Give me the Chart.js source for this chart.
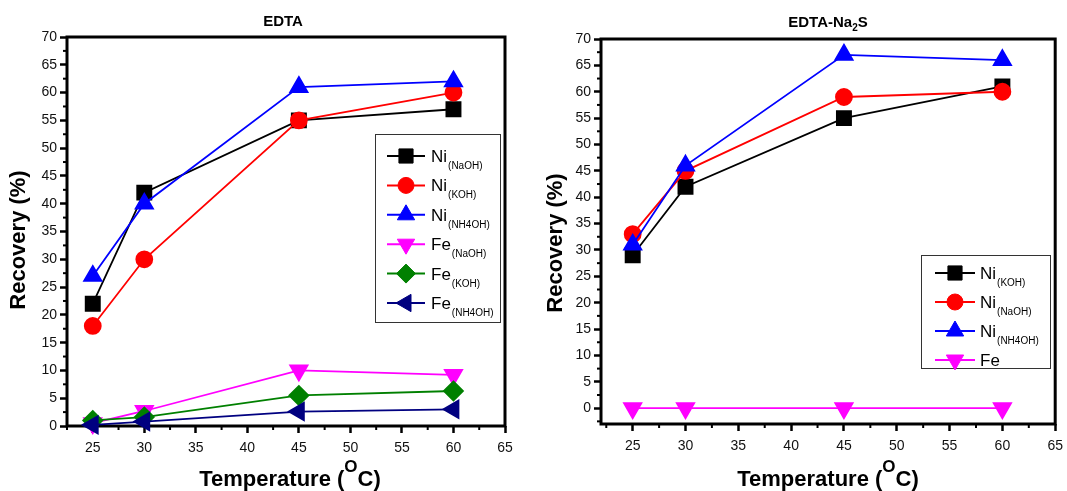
<!DOCTYPE html>
<html>
<head>
<meta charset="utf-8">
<script src="https://cdn.jsdelivr.net/npm/chart.js@4"></script>
<style>
  body { margin: 0; background: #fff; width: 1067px; height: 491px; position: relative; overflow: hidden; }
  canvas { position: absolute; top: 0; }
</style>
</head>
<body>
<canvas id="edta" width="533" height="491" style="left:0"></canvas>
<canvas id="na2s" width="534" height="491" style="left:533px"></canvas>
<script>
const FONT = "'Liberation Sans', Arial, sans-serif";

// temperatures (°C)
const temps = [25, 30, 45, 60];

// EDTA panel
const edtaNiNaOH = [22, 42, 55, 57];
const edtaNiKOH = [18, 30, 55, 60];
const edtaNiNH4OH = [27, 40, 61, 62];
const edtaFeNaOH = [0.5, 2.7, 10, 9.2];
const edtaFeKOH = [1, 1.6, 5.5, 6.3];
const edtaFeNH4OH = [0.2, 0.8, 2.6, 3];
const edtaNames = ['Ni', 'Ni', 'Ni', 'Fe', 'Fe', 'Fe'];
const edtaSubs = ['(NaOH)', '(KOH)', '(NH4OH)', '(NaOH)', '(KOH)', '(NH4OH)'];

// EDTA-Na2S panel
const na2sNiKOH = [29, 42, 55, 61];
const na2sNiNaOH = [33, 45, 59, 60];
const na2sNiNH4OH = [31, 46, 67, 66];
const na2sFe = [0, 0, 0, 0];
const na2sNames = ['Ni', 'Ni', 'Ni', 'Fe'];
const na2sSubs = ['(KOH)', '(NaOH)', '(NH4OH)', ''];

// tick labels
const xTicks = [25, 30, 35, 40, 45, 50, 55, 60, 65];
const yTicks = [0, 5, 10, 15, 20, 25, 30, 35, 40, 45, 50, 55, 60, 65, 70];

const styles = {
  sq:    { color: '#000000', pointStyle: 'rect', radius: 10, rotation: 0 },
  circ:  { color: '#ff0000', pointStyle: 'circle', radius: 8, rotation: 0 },
  up:    { color: '#0000ff', pointStyle: 'triangle', radius: 10, rotation: 0 },
  down:  { color: '#ff00ff', pointStyle: 'triangle', radius: 10, rotation: 180 },
  dia:   { color: '#008000', pointStyle: 'rectRot', radius: 9.5, rotation: 0 },
  left:  { color: '#000080', pointStyle: 'triangle', radius: 10, rotation: 270 }
};

function makeDatasets(series, names, subs, st) {
  const n = series.length;
  return series.map((vals, i) => ({
    label: names[i] + subs[i],
    main: names[i],
    sub: subs[i],
    st: st[i],
    data: temps.map((t, j) => ({ x: t, y: vals[j] })),
    borderColor: st[i].color,
    backgroundColor: st[i].color,
    pointBackgroundColor: st[i].color,
    pointBorderColor: st[i].color,
    pointStyle: st[i].pointStyle,
    pointRadius: st[i].radius,
    pointHoverRadius: st[i].radius,
    pointRotation: st[i].rotation,
    borderWidth: 1.8,
    tension: 0,
    clip: false,
    order: n - i
  }));
}

function withMinors(majors, min, max) {
  const out = [];
  majors.forEach(v => { out.push(v - 2.5, v); });
  out.push(majors[majors.length - 1] + 2.5);
  return [...new Set(out)].filter(v => v >= min && v <= max).sort((a, b) => a - b);
}

function axis(min, max, majors, fit, isX) {
  return {
    type: 'linear',
    min, max,
    afterBuildTicks: s => { s.ticks = withMinors(majors, min, max).map(v => ({ value: v })); },
    afterFit: s => {
      if (isX) s.height = fit; else s.width = fit;
      s.paddingLeft = s.paddingRight = s.paddingTop = s.paddingBottom = 0;
    },
    border: { display: false },
    grid: {
      drawOnChartArea: false,
      drawTicks: true,
      tickLength: 7,
      tickColor: c => (c.tick && c.tick.value % 5 === 0 ? '#000' : 'rgba(0,0,0,0)'),
      tickWidth: 2.5
    },
    ticks: {
      autoSkip: false,
      maxRotation: 0,
      padding: isX ? 7 : 3,
      color: '#111',
      font: { family: FONT, size: 14 },
      callback: v => (v % 5 === 0 ? v : '')
    }
  };
}

function drawLegend(ctx, lg, datasets) {
  ctx.save();
  ctx.strokeStyle = '#333';
  ctx.lineWidth = 1;
  ctx.strokeRect(lg.x + 0.5, lg.y + 0.5, lg.w, lg.h);
  datasets.forEach((d, i) => {
    const y = lg.first + i * lg.gap;
    ctx.strokeStyle = d.st.color;
    ctx.fillStyle = d.st.color;
    ctx.lineWidth = 2;
    ctx.beginPath();
    ctx.moveTo(lg.lx0, y);
    ctx.lineTo(lg.lx1, y);
    ctx.stroke();
    ctx.lineWidth = 1;
    Chart.helpers.drawPoint(ctx, {
      pointStyle: d.st.pointStyle, radius: d.st.radius, rotation: d.st.rotation, borderWidth: 1
    }, (lg.lx0 + lg.lx1) / 2, y);
    ctx.fillStyle = '#000';
    ctx.textAlign = 'left';
    ctx.textBaseline = 'alphabetic';
    ctx.font = '17px ' + FONT;
    ctx.fillText(d.main, lg.tx, y + 6);
    const w = ctx.measureText(d.main).width;
    if (d.sub) {
      ctx.font = '10px ' + FONT;
      ctx.fillText(d.sub, lg.tx + w + 1, y + 13);
    }
  });
  ctx.restore();
}

// draws pieces [{t, small}] centred on x, baseline y
function drawRich(ctx, parts, cx, y, size, subSize, shift) {
  const widths = parts.map(p => {
    ctx.font = 'bold ' + (p.small ? subSize : size) + 'px ' + FONT;
    return ctx.measureText(p.t).width;
  });
  let x = cx - widths.reduce((s, w) => s + w, 0) / 2;
  parts.forEach((p, i) => {
    ctx.font = 'bold ' + (p.small ? subSize : size) + 'px ' + FONT;
    ctx.fillText(p.t, x, y + (p.small ? shift : 0));
    x += widths[i];
  });
}

function decor(cfg) {
  return {
    id: 'decor',
    beforeDatasetsDraw(chart) {
      const { ctx, chartArea: a } = chart;
      ctx.save();
      ctx.strokeStyle = '#000';
      ctx.lineWidth = 3;
      ctx.strokeRect(a.left, a.top, a.right - a.left, a.bottom - a.top);
      // short minor ticks
      ctx.lineWidth = 2;
      const xs = chart.scales.x, ys = chart.scales.y;
      xs.ticks.forEach(t => {
        if (t.value % 5 === 0) return;
        const px = xs.getPixelForValue(t.value);
        ctx.beginPath(); ctx.moveTo(px, a.bottom); ctx.lineTo(px, a.bottom + 4); ctx.stroke();
      });
      ys.ticks.forEach(t => {
        if (t.value % 5 === 0) return;
        const py = ys.getPixelForValue(t.value);
        ctx.beginPath(); ctx.moveTo(a.left, py); ctx.lineTo(a.left - 4, py); ctx.stroke();
      });
      ctx.restore();
    },
    afterDraw(chart) {
      const ctx = chart.ctx;
      ctx.save();
      ctx.fillStyle = '#000';
      ctx.textAlign = 'left';
      ctx.textBaseline = 'alphabetic';
      // panel title
      drawRich(ctx, cfg.title, cfg.titleX, cfg.titleY, 15, 10, 4);
      // y title
      ctx.save();
      ctx.translate(cfg.yTitleX, cfg.yTitleY);
      ctx.rotate(-Math.PI / 2);
      ctx.textAlign = 'center';
      ctx.textBaseline = 'middle';
      ctx.font = 'bold 22px ' + FONT;
      ctx.fillText('Recovery (%)', 0, 0);
      ctx.restore();
      // x title with superscript
      drawRich(ctx, [{ t: 'Temperature (' }, { t: 'O', small: true }, { t: 'C)' }],
        cfg.xTitleX, cfg.xTitleY, 22, 17, -14);
      ctx.restore();
      drawLegend(ctx, cfg.legend, chart.data.datasets);
    }
  };
}

function build(id, datasets, opts, cfg) {
  new Chart(document.getElementById(id), {
    type: 'line',
    data: { datasets },
    options: {
      responsive: false,
      animation: false,
      events: [],
      layout: { padding: opts.padding },
      plugins: { legend: { display: false }, tooltip: { enabled: false } },
      scales: {
        x: axis(opts.xmin, 65, xTicks, opts.xFit, true),
        y: axis(opts.ymin, 70, yTicks, opts.yFit, false)
      }
    },
    plugins: [decor(cfg)]
  });
}

build('edta',
  makeDatasets([edtaNiNaOH, edtaNiKOH, edtaNiNH4OH, edtaFeNaOH, edtaFeKOH, edtaFeNH4OH],
    edtaNames, edtaSubs, [styles.sq, styles.circ, styles.up, styles.down, styles.dia, styles.left]),
  { padding: { left: 0, right: 28, top: 37, bottom: 0 }, xmin: 22.5, ymin: 0, xFit: 65, yFit: 67 },
  {
    title: [{ t: 'EDTA' }], titleX: 283, titleY: 26,
    yTitleX: 19, yTitleY: 240, xTitleX: 290, xTitleY: 486,
    legend: { x: 375, y: 134, w: 125, h: 188, first: 156, gap: 29.4, lx0: 387, lx1: 425, tx: 431 }
  });

build('na2s',
  makeDatasets([na2sNiKOH, na2sNiNaOH, na2sNiNH4OH, na2sFe],
    na2sNames, na2sSubs, [styles.sq, styles.circ, styles.up, styles.down]),
  { padding: { left: 0, right: 9, top: 39, bottom: 0 }, xmin: 22, ymin: -3, xFit: 67, yFit: 68 },
  {
    title: [{ t: 'EDTA-Na' }, { t: '2', small: true }, { t: 'S' }], titleX: 295, titleY: 27,
    yTitleX: 23, yTitleY: 243, xTitleX: 295, xTitleY: 486,
    legend: { x: 388, y: 255, w: 129, h: 113, first: 273, gap: 29, lx0: 402, lx1: 442, tx: 447 }
  });
</script>
</body>
</html>
